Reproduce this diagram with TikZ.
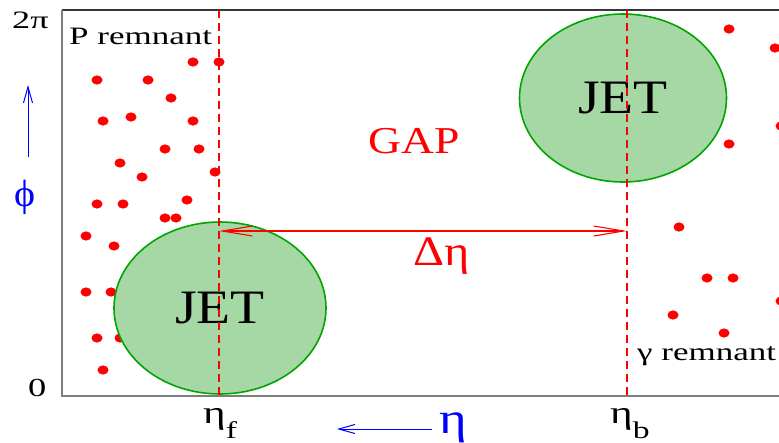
\documentclass[tikz,border=0pt]{standalone}
\usepackage{fontspec}
\setmainfont{Liberation Serif}
\usepackage{graphicx}
\usetikzlibrary{shapes.geometric,arrows.meta}
\definecolor{GapRed}{RGB}{255,0,0}
\definecolor{JetGreen}{RGB}{0,165,0}
\definecolor{JetFill}{RGB}{166,216,166}
\definecolor{AxisBlue}{RGB}{0,0,255}
\definecolor{FrameGray}{RGB}{125,125,125}
\definecolor{TopGray}{RGB}{55,55,55}
\newcommand{\wtxt}[2]{\scalebox{#1}[1]{#2}}
\newcommand{\fsz}[1]{\fontsize{#1}{#1}\selectfont}
\tikzset{
  frameline/.style={draw=FrameGray,line width=2pt},
  dashline/.style={draw=GapRed,line width=1.8pt,dash pattern=on 8pt off 5pt},
  jet/.style={ellipse,draw=JetGreen,fill=JetFill,line width=1.6pt,inner sep=0pt,
    font=\fsz{48}},
  hit/.style={fill=GapRed},
  gapspan/.style={draw=GapRed,line width=1.1pt,
    {Straight Barb[length=30pt,width=10pt]}-{Straight Barb[length=30pt,width=10pt]}},
  axisarrow/.style={draw=AxisBlue,line width=1pt,-{Straight Barb[length=16pt,width=9pt]}},
  lbl/.style={inner sep=0pt},
}
\begin{document}
\begin{tikzpicture}[x=1pt,y=-1pt]
\useasboundingbox (0,0) rectangle (779,442);
\clip (0,0) rectangle (779,442);
% frame of the (eta,phi) plane
\coordinate (tl) at (62,10);
\coordinate (tr) at (779,10);
\coordinate (bl) at (62,396);
\coordinate (br) at (779,396);
\draw[draw=TopGray,line width=1.2pt] (tl) -- (tr);
\draw[frameline] (tl) -- (bl) -- (br);
% remnant hits
\foreach \px/\py in {193/62,219/62,97/80,148/80,171/98,103/121,131/117,193/121,
  165/149,199/149,120/163,142/177,215/172,97/204,123/204,187/200,165/218,176/218,
  86/236,114/246,86/292,111/292,97/338,120/338,103/370}
  \fill[hit] (\px,\py) ellipse (5.5 and 4.6);
\foreach \px/\py in {729/29,775/48,781/126,729/144,679/227,707/278,733/278,
  781/301,673/315,724/333}
  \fill[hit] (\px,\py) ellipse (5.5 and 4.6);
% jets
\node[jet,minimum width=212pt,minimum height=172pt] (jetf) at (220,308) {\wtxt{1.16}{JET}};
\node[jet,minimum width=207pt,minimum height=168pt] (jetb) at (623,98) {\wtxt{1.16}{JET}};
% jet axes and the gap
\coordinate (ftop) at (219,10);
\coordinate (fbot) at (219,396);
\coordinate (btop) at (627,10);
\coordinate (bbot) at (627,396);
\draw[dashline] (ftop) -- (fbot);
\draw[dashline] (btop) -- (bbot);
\coordinate (fmid) at (219,231);
\coordinate (bmid) at (627,231);
\draw[gapspan] (fmid) -- (bmid);
\node[lbl,anchor=base,text=GapRed,font=\fsz{38}] (gap) at (414,153) {\wtxt{1.2}{GAP}};
\node[lbl,anchor=base,text=GapRed,font=\fsz{42}] (deta) at (442,265) {\wtxt{1.15}{Δη}};
% remnants
\node[lbl,anchor=base west,font=\fsz{25}] (prem) at (69,44) {\wtxt{1.4}{P remnant}};
\node[lbl,anchor=base west,font=\fsz{25}] (grem) at (637,360) {\wtxt{1.4}{γ remnant}};
% phi axis
\node[lbl,anchor=base west,font=\fsz{25}] (twopi) at (12,28) {\wtxt{1.45}{2π}};
\node[lbl,anchor=base west,font=\fsz{26}] (zero) at (28,396) {\wtxt{1.4}{0}};
\node[lbl,text=AxisBlue,font=\fsz{38}] (phi) at (25,197) {\wtxt{1.05}{ϕ}};
\coordinate (phitail) at (28,157);
\coordinate (phitip) at (28,85);
\draw[axisarrow] (phitail) -- (phitip);
% eta axis
\node[lbl,anchor=base west,font=\fsz{32}] (etaf) at (203,423)
  {\wtxt{1.35}{η}\raisebox{-15pt}{\fsz{24}\wtxt{1.4}{f}}};
\node[lbl,anchor=base west,font=\fsz{32}] (etab) at (610,423)
  {\wtxt{1.35}{η}\raisebox{-15pt}{\fsz{24}\wtxt{1.4}{b}}};
\node[lbl,anchor=base,text=AxisBlue,font=\fsz{44}] (eta) at (453,433) {\wtxt{1.2}{η}};
\coordinate (etatail) at (432,429);
\coordinate (etatip) at (337,429);
\draw[axisarrow] (etatail) -- (etatip);
\end{tikzpicture}
\end{document}
